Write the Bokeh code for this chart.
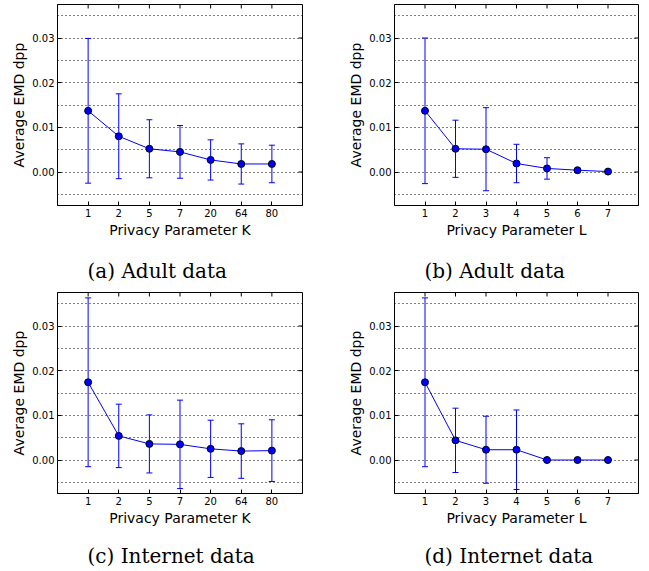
from bokeh.plotting import figure
from bokeh.layouts import row, column
from bokeh.models import (Range1d, FixedTicker, Whisker, TeeHead, Label,
                          ColumnDataSource, NumeralTickFormatter)
from bokeh.embed import file_html
from bokeh.resources import INLINE

# ---- data ----
k_labels = ["1", "2", "5", "7", "20", "64", "80"]
l_labels = ["1", "2", "3", "4", "5", "6", "7"]

adult_k_mean = [0.0137, 0.0080, 0.0052, 0.0045, 0.0027, 0.0018, 0.0018]
adult_k_err = [0.0162, 0.0095, 0.0065, 0.0059, 0.0045, 0.0045, 0.0042]

adult_l_mean = [0.0137, 0.0052, 0.0051, 0.0019, 0.0008, 0.0004, 0.0001]
adult_l_err = [0.0163, 0.0064, 0.0093, 0.0043, 0.0024, 0.0002, 0.0001]

internet_k_mean = [0.0174, 0.0054, 0.0036, 0.0035, 0.0025, 0.0020, 0.0021]
internet_k_err = [0.0189, 0.0071, 0.0065, 0.0099, 0.0064, 0.0061, 0.0069]

internet_l_mean = [0.0174, 0.0044, 0.0023, 0.0023, 0.0000, 0.0000, 0.0000]
internet_l_err = [0.0189, 0.0072, 0.0075, 0.0089, 0.0000, 0.0000, 0.0000]

y_major = [0.0, 0.01, 0.02, 0.03]
y_minor = [-0.005, 0.005, 0.015, 0.025, 0.035]
y_limits = (-0.0075, 0.0375)

captions = ["(a) Adult data", "(b) Adult data", "(c) Internet data", "(d) Internet data"]
x_titles = ["Privacy Parameter K", "Privacy Parameter L", "Privacy Parameter K", "Privacy Parameter L"]
y_title = "Average EMD dpp"

BLUE = "#0000ff"
SANS = "DejaVu Sans"
TICK_PX = 4


def panel(labels, mean, err, xlabel, width, height, bl, br, bt, bb):
    n = len(labels)
    xs = list(range(1, n + 1))
    x0, x1 = 0, n + 1
    y0, y1 = y_limits
    frame_w = width - bl - br
    frame_h = height - bt - bb
    p = figure(width=width, height=height, output_backend="svg", toolbar_location=None,
               x_range=Range1d(x0, x1), y_range=Range1d(y0, y1),
               min_border_left=bl, min_border_right=br, min_border_top=bt, min_border_bottom=bb)
    p.background_fill_color = "white"
    p.border_fill_color = "white"
    p.outline_line_color = "black"
    p.outline_line_width = 1

    xt = FixedTicker(ticks=xs)
    yt = FixedTicker(ticks=y_major, minor_ticks=y_minor)

    xa = p.xaxis[0]
    xa.ticker = xt
    xa.major_label_overrides = {x: lab for x, lab in zip(xs, labels)}
    xa.axis_label = xlabel
    ya = p.yaxis[0]
    ya.ticker = yt
    ya.formatter = NumeralTickFormatter(format="0.00")
    ya.axis_label = y_title

    for ax in (xa, ya):
        ax.major_tick_in = TICK_PX
        ax.major_tick_out = 0
        ax.minor_tick_in = 0
        ax.minor_tick_out = 0
        ax.axis_line_color = "black"
        ax.major_tick_line_color = "black"
        ax.major_label_text_font = SANS
        ax.major_label_text_font_size = "10px"
        ax.major_label_text_color = "black"
        ax.axis_label_text_font = SANS
        ax.axis_label_text_font_size = "14px"
        ax.axis_label_text_font_style = "normal"
        ax.axis_label_text_color = "black"
        ax.major_label_standoff = 3
        ax.axis_label_standoff = 2

    # mirrored inward ticks on the top and right frame edges
    dy = TICK_PX * (y1 - y0) / frame_h
    dx = TICK_PX * (x1 - x0) / frame_w
    p.segment(x0=xs, y0=[y1] * n, x1=xs, y1=[y1 - dy] * n, line_color="black", line_width=1)
    p.segment(x0=[x1] * len(y_major), y0=y_major, x1=[x1 - dx] * len(y_major), y1=y_major,
              line_color="black", line_width=1)

    p.xgrid.visible = False
    g = p.ygrid[0]
    g.ticker = yt
    g.grid_line_color = "black"
    g.grid_line_dash = "1 3"
    g.grid_line_width = 1
    g.minor_grid_line_color = "black"
    g.minor_grid_line_dash = "1 3"
    g.minor_grid_line_width = 1

    src = ColumnDataSource(dict(
        x=xs, y=mean,
        upper=[m + e for m, e in zip(mean, err)],
        lower=[m - e for m, e in zip(mean, err)],
    ))
    w = Whisker(source=src, base="x", upper="upper", lower="lower",
                line_color=BLUE, line_width=1,
                upper_head=TeeHead(size=6, line_color=BLUE, line_width=1),
                lower_head=TeeHead(size=6, line_color=BLUE, line_width=1))
    w.level = "glyph"
    p.add_layout(w)
    p.line("x", "y", source=src, line_color=BLUE, line_width=1)
    p.scatter("x", "y", source=src, size=7, fill_color=BLUE, line_color="black", line_width=1)
    return p


def caption_strip(text, width, height, left_px, center_from_top):
    # a blank strip whose frame is the whole strip; y counts pixels from the top
    c = figure(width=width, height=height, output_backend="svg", toolbar_location=None,
               x_range=Range1d(0, width), y_range=Range1d(height, 0),
               x_axis_location=None, y_axis_location=None,
               min_border=0, min_border_left=0, min_border_right=0,
               min_border_top=0, min_border_bottom=0)
    c.outline_line_color = None
    c.grid.visible = False
    c.background_fill_color = "white"
    c.border_fill_color = "white"
    c.add_layout(Label(x=left_px, y=center_from_top, text=text,
                       text_font="DejaVu Serif", text_font_size="20px",
                       text_color="black", text_align="left", text_baseline="middle"))
    return c


pa = panel(k_labels, adult_k_mean, adult_k_err, x_titles[0], 325, 244, 57, 23, 4, 39)
pb = panel(l_labels, adult_l_mean, adult_l_err, x_titles[1], 324, 244, 69, 11, 4, 39)
ca = caption_strip(captions[0], 325, 42, 57 + 30, 26)
cb = caption_strip(captions[1], 324, 42, 69 + 30, 26)

pc = panel(k_labels, internet_k_mean, internet_k_err, x_titles[2], 325, 246, 57, 23, 6, 39)
pd = panel(l_labels, internet_l_mean, internet_l_err, x_titles[3], 324, 246, 69, 11, 6, 39)
cc = caption_strip(captions[2], 325, 39, 57 + 30, 23)
cd = caption_strip(captions[3], 324, 39, 69 + 30, 23)

layout = column(row(pa, pb, spacing=0), row(ca, cb, spacing=0),
                row(pc, pd, spacing=0), row(cc, cd, spacing=0), spacing=0)
open("out.html", "w").write(file_html(layout, INLINE))
